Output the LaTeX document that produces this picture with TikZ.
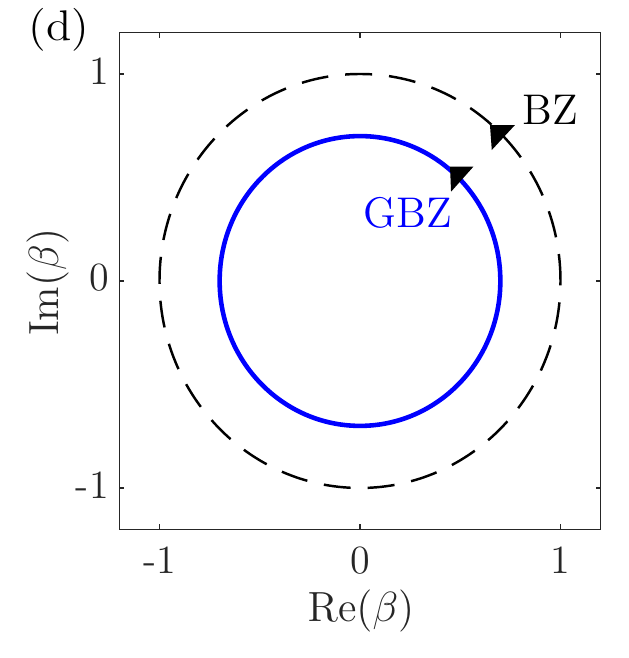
\documentclass[tikz,border=0pt]{standalone}
\usepackage{color}
\usepackage{tikz}
\definecolor{axisgray}{HTML}{262626}
\definecolor{gbzblue}{HTML}{0000FF}
\tikzstyle{ticklabel}=[inner sep=0pt, text=axisgray, font=\fontsize{11.4}{13}\selectfont]
\tikzstyle{axislabel}=[inner sep=0pt, text=axisgray, font=\fontsize{12.8}{15}\selectfont]
\tikzstyle{curvelabel}=[inner sep=0pt, anchor=base west, font=\fontsize{12.2}{14}\selectfont]
\tikzstyle{bzline}=[draw=black, line width=0.7pt, dash pattern=on 0.27cm off 0.17cm]
\tikzstyle{gbzline}=[draw=gbzblue, line width=1.3pt]

\begin{document}
\begin{tikzpicture}[x=2.005cm, y=2.07cm]
			\useasboundingbox (-1.7955,-1.8213) rectangle (1.3367,1.3575);
			\path[bzline] (0,0) circle (1);
			\path[gbzline] (0,0) circle (0.7);
			\fill[black] (45:1) ++(-0.118cm,0.096cm) -- ++(0.25cm,0) -- ++(-0.232cm,-0.25cm) -- cycle;
			\fill[black] (45:0.7) ++(-0.092cm,0.118cm) -- ++(0.233cm,0) -- ++(-0.223cm,-0.25cm) -- cycle;
			\draw[axisgray, line width=0.5pt] (-1.2,-1.2) rectangle (1.2,1.2);
			\foreach \t in {-1,0,1} {
				\draw[axisgray, line width=0.5pt] (\t,-1.2) -- ++(0,0.05cm) (\t,1.2) -- ++(0,-0.05cm);
				\draw[axisgray, line width=0.5pt] (-1.2,\t) -- ++(0.05cm,0) (1.2,\t) -- ++(-0.05cm,0);
				\node[ticklabel, anchor=north, yshift=-0.17cm] (xt\t) at (\t,-1.2) {\t};
				\node[ticklabel, anchor=east, xshift=-0.1cm, yshift=0.03cm] (yt\t) at (-1.2,\t) {\t};
			}
			\node[axislabel] (xlab) at (0.005,-1.592) {$\mathrm{Re}(\beta)$};
			\node[axislabel, rotate=90] (ylab) at (-1.5586,-0.007) {$\mathrm{Im}(\beta)$};
			\node[inner sep=0pt, xscale=1.08, font=\fontsize{12.2}{14}\selectfont] (panel) at (-1.501,1.2126) {(d)};
			\node[curvelabel] (bz) at (0.808,0.7536) {BZ};
			\node[curvelabel, text=gbzblue] (gbz) at (0.015,0.256) {GBZ};
		\end{tikzpicture}
\end{document}
